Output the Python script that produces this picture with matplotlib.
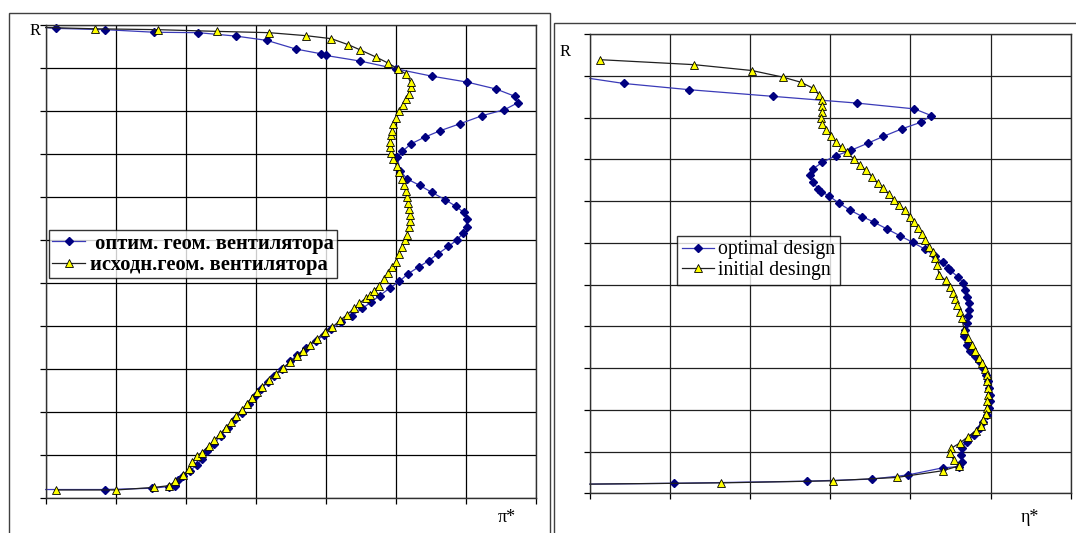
import matplotlib
matplotlib.use("Agg")
import matplotlib.pyplot as plt
from matplotlib.patches import Rectangle

# ---------------- data (grid units on x, R on y) ----------------
# Left panel: pi* distribution along radius
pi_opt_x = [0, 0.84, 1.52, 1.76, 1.84, 1.89, 1.96, 2.06, 2.16, 2.23,
            2.30, 2.40, 2.50, 2.60, 2.70, 2.80, 2.90, 2.99, 3.07, 3.17,
            3.26, 3.38, 3.49, 3.59, 3.71, 3.86, 3.98, 4.08, 4.22, 4.37,
            4.52, 4.64, 4.77, 4.91, 5.05, 5.17, 5.33, 5.47, 5.60, 5.75,
            5.87, 5.96, 6.01, 6.01, 5.97, 5.86, 5.70, 5.51, 5.34, 5.16,
            5.06, 5.02, 5.09, 5.22, 5.41, 5.63, 5.91, 6.23, 6.55, 6.74,
            6.70, 6.43, 6.02, 5.51, 5.00, 4.49, 4.00, 3.93, 3.57, 3.16,
            2.72, 2.18, 1.55, 0.85, 0.14, 0]
pi_opt_r = [0.019, 0.019, 0.022, 0.026, 0.028, 0.040, 0.051, 0.063, 0.076, 0.090,
            0.109, 0.125, 0.144, 0.163, 0.183, 0.198, 0.218, 0.237, 0.253, 0.268,
            0.284, 0.299, 0.317, 0.332, 0.348, 0.365, 0.379, 0.392, 0.408, 0.423,
            0.440, 0.454, 0.470, 0.487, 0.503, 0.520, 0.537, 0.551, 0.567, 0.584,
            0.599, 0.615, 0.630, 0.648, 0.663, 0.677, 0.693, 0.710, 0.726, 0.741,
            0.760, 0.791, 0.805, 0.823, 0.838, 0.853, 0.869, 0.888, 0.902, 0.918,
            0.933, 0.950, 0.966, 0.980, 0.997, 1.015, 1.028, 1.032, 1.043, 1.063,
            1.073, 1.081, 1.082, 1.088, 1.091, 1.093]
pi_init_x = [0.14, 1.01, 1.55, 1.76, 1.85, 1.96, 2.05, 2.09, 2.16, 2.23,
             2.33, 2.40, 2.49, 2.57, 2.65, 2.72, 2.80, 2.87, 2.94, 3.02,
             3.09, 3.19, 3.29, 3.39, 3.49, 3.59, 3.67, 3.77, 3.87, 3.99,
             4.09, 4.20, 4.30, 4.40, 4.48, 4.57, 4.63, 4.68, 4.76, 4.83,
             4.89, 4.94, 5.00, 5.04, 5.09, 5.13, 5.16, 5.18, 5.20, 5.20,
             5.18, 5.17, 5.16, 5.14, 5.11, 5.09, 5.05, 5.01, 4.96, 4.93,
             4.91, 4.91, 4.93, 4.94, 4.96, 5.00, 5.04, 5.10, 5.14, 5.18,
             5.22, 5.21, 5.15, 5.03, 4.88, 4.72, 4.49, 4.32, 4.08, 3.72,
             3.19, 2.45, 1.60, 0.70, 0]
pi_init_r = [0.018, 0.018, 0.024, 0.028, 0.038, 0.053, 0.067, 0.082, 0.098, 0.105,
             0.121, 0.133, 0.148, 0.163, 0.175, 0.191, 0.205, 0.218, 0.232, 0.245,
             0.258, 0.274, 0.288, 0.302, 0.315, 0.329, 0.342, 0.356, 0.369, 0.386,
             0.396, 0.412, 0.425, 0.440, 0.452, 0.464, 0.471, 0.480, 0.493, 0.509,
             0.522, 0.536, 0.549, 0.567, 0.582, 0.598, 0.611, 0.629, 0.644, 0.657,
             0.671, 0.685, 0.698, 0.714, 0.728, 0.741, 0.757, 0.772, 0.788, 0.801,
             0.815, 0.826, 0.842, 0.853, 0.869, 0.882, 0.898, 0.912, 0.926, 0.939,
             0.954, 0.966, 0.984, 0.997, 1.011, 1.024, 1.041, 1.053, 1.067, 1.074,
             1.081, 1.084, 1.088, 1.090, 1.093]

# Right panel: eta* distribution along radius
eta_opt_x = [0, 0.42, 1.24, 2.29, 3.33, 4.05, 4.26, 4.13, 3.89, 3.66,
             3.47, 3.26, 3.07, 2.90, 2.78, 2.75, 2.78, 2.85, 2.88, 2.98,
             3.11, 3.24, 3.40, 3.55, 3.71, 3.87, 4.03, 4.18, 4.30, 4.40,
             4.47, 4.49, 4.59, 4.66, 4.68, 4.70, 4.73, 4.73, 4.72, 4.70,
             4.68, 4.67, 4.70, 4.74, 4.80, 4.85, 4.91, 4.94, 4.97, 4.98,
             4.99, 4.99, 4.98, 4.96, 4.91, 4.87, 4.79, 4.70, 4.64, 4.63,
             4.64, 4.61, 4.40, 3.97, 3.52, 2.71, 1.05, 0]
eta_opt_r = [0.994, 0.982, 0.967, 0.951, 0.935, 0.921, 0.905, 0.889, 0.873, 0.855,
             0.839, 0.822, 0.809, 0.793, 0.777, 0.762, 0.745, 0.730, 0.723, 0.713,
             0.695, 0.679, 0.663, 0.649, 0.633, 0.617, 0.601, 0.585, 0.569, 0.553,
             0.540, 0.535, 0.519, 0.504, 0.488, 0.471, 0.456, 0.440, 0.424, 0.408,
             0.392, 0.376, 0.356, 0.340, 0.328, 0.316, 0.300, 0.284, 0.268, 0.252,
             0.236, 0.220, 0.204, 0.188, 0.172, 0.156, 0.140, 0.124, 0.108, 0.092,
             0.076, 0.064, 0.061, 0.044, 0.034, 0.029, 0.024, 0.022]
eta_init_x = [0.12, 1.30, 2.02, 2.41, 2.63, 2.78, 2.86, 2.89, 2.89, 2.89,
              2.88, 2.90, 2.95, 3.01, 3.07, 3.14, 3.21, 3.29, 3.37, 3.44,
              3.52, 3.59, 3.66, 3.73, 3.79, 3.86, 3.93, 3.99, 4.05, 4.10,
              4.15, 4.18, 4.23, 4.28, 4.31, 4.33, 4.36, 4.44, 4.49, 4.53,
              4.56, 4.58, 4.62, 4.64, 4.67, 4.72, 4.77, 4.81, 4.85, 4.89,
              4.93, 4.95, 4.96, 4.97, 4.97, 4.96, 4.95, 4.94, 4.91, 4.88,
              4.82, 4.72, 4.62, 4.51, 4.49, 4.54, 4.61, 4.40, 3.83, 3.03,
              1.64, 0]
eta_init_r = [1.039, 1.027, 1.013, 0.997, 0.985, 0.971, 0.955, 0.942, 0.927, 0.913,
              0.899, 0.885, 0.871, 0.857, 0.841, 0.829, 0.817, 0.801, 0.787, 0.774,
              0.759, 0.743, 0.731, 0.717, 0.703, 0.691, 0.678, 0.662, 0.649, 0.635,
              0.621, 0.607, 0.591, 0.577, 0.564, 0.547, 0.523, 0.510, 0.494, 0.480,
              0.465, 0.452, 0.435, 0.420, 0.392, 0.372, 0.356, 0.340, 0.324, 0.312,
              0.297, 0.284, 0.268, 0.252, 0.236, 0.220, 0.204, 0.189, 0.176, 0.162,
              0.150, 0.136, 0.121, 0.108, 0.097, 0.080, 0.066, 0.054, 0.038, 0.030,
              0.025, 0.022]

left_labels = [" оптим. геом. вентилятора", "исходн.геом. вентилятора"]
right_labels = ["optimal design", "initial desingn"]

# ---------------- figure ----------------
W, H = 1076, 533
fig = plt.figure(figsize=(W / 100, H / 100), dpi=100)
fig.patch.set_facecolor("white")


def fx(px):
    return px / W


def fy(py):
    return 1 - py / H


# outer frames
fig.add_artist(Rectangle((fx(9), fy(540)), fx(550) - fx(9), fy(12.7) - fy(540),
                         fill=False, edgecolor="#404040", lw=1.0, transform=fig.transFigure))
fig.add_artist(Rectangle((fx(554.3), fy(540)), fx(1090) - fx(554.3), fy(22.7) - fy(540),
                         fill=False, edgecolor="#404040", lw=1.0, transform=fig.transFigure))

BLUE_LINE = "#3a3ab8"
NAVY = "#000080"
serif = ["Liberation Serif", "DejaVu Serif"]


def setup(ax, nx, ny_max):
    ax.set_xlim(0, nx)
    ax.set_ylim(0, ny_max)
    ax.set_xticks(range(0, nx + 1))
    ax.set_yticks([i * 0.1 for i in range(12)])
    ax.set_xticklabels([])
    ax.set_yticklabels([])
    ax.grid(True, color="black", lw=0.9)
    ax.tick_params(direction="out", length=4, width=0.9, color="black")
    for s in ax.spines.values():
        s.set_color("#303030")
        s.set_linewidth(1.0)
    ax.set_axisbelow(True)


def marks(xs):
    # no marker where the curve just runs onto the axis
    return [i for i, v in enumerate(xs) if v > 0]


def draw(ax, ox, orr, ix, ir, labels):
    ax.plot(ox, orr, color=BLUE_LINE, lw=0.9, marker="D", ms=4.0, markevery=marks(ox),
            mfc=NAVY, mec=NAVY, label=labels[0], clip_on=False)
    ax.plot(ix, ir, color="#202020", lw=0.9, marker="^", ms=5.8, markevery=marks(ix),
            mfc="#ffff00", mec="black", mew=0.6, label=labels[1], clip_on=False)


# Left panel
axL = fig.add_axes([fx(45.7), fy(497.7), fx(536) - fx(45.7), fy(24.5) - fy(497.7)])
setup(axL, 7, 1.1)
draw(axL, pi_opt_x, pi_opt_r, pi_init_x, pi_init_r, left_labels)
legL = axL.legend(loc="lower left", bbox_to_anchor=(0.0073, 0.4637), borderaxespad=0,
                  prop={"family": serif, "weight": "bold", "size": 14.8},
                  frameon=True, fancybox=False, edgecolor="black",
                  handlelength=1.6, handletextpad=0.25, borderpad=0.15, labelspacing=0.08)
legL.get_frame().set_linewidth(1.0)
fig.text(fx(35), fy(31), "R", family=serif, fontsize=12, ha="center", va="center")
fig.text(fx(507), fy(517), "π*", family=serif, fontsize=13, ha="center", va="center")

# Right panel
axR = fig.add_axes([fx(590), fy(493.3), fx(1070.7) - fx(590), fy(34.2) - fy(493.3)])
setup(axR, 6, 1.1)
for ln in axR.get_xgridlines() + axR.get_ygridlines():
    ln.set_color("#202020")
draw(axR, eta_opt_x, eta_opt_r, eta_init_x, eta_init_r, right_labels)
x0 = (677.3 - 590) / (1070.7 - 590)
y0 = (493.3 - 285) / (493.3 - 34.2)
legR = axR.legend(loc="lower left", bbox_to_anchor=(x0, y0), borderaxespad=0,
                  prop={"family": serif, "size": 14.2},
                  frameon=True, fancybox=False, edgecolor="black",
                  handlelength=1.6, handletextpad=0.2, borderpad=0.25, labelspacing=0.08)
legR.get_frame().set_linewidth(1.0)
fig.text(fx(565), fy(52.5), "R", family=serif, fontsize=12, ha="center", va="center")
fig.text(fx(1030), fy(518), "η*", family=serif, fontsize=13, ha="center", va="center")

fig.savefig("out.png", dpi=100, facecolor="white")
